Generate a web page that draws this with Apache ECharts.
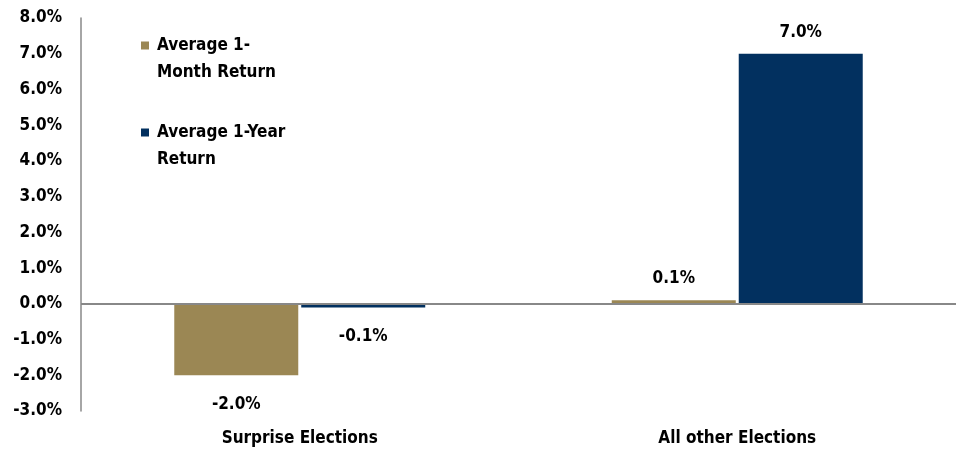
<!DOCTYPE html>
<html>
<head>
<meta charset="utf-8">
<script src="https://cdn.jsdelivr.net/npm/echarts@6/dist/echarts.min.js"></script>
<style>html,body{margin:0;padding:0;background:#fff}#c{width:956px;height:452px}</style>
</head>
<body>
<div id="c"></div>
<script>
const categories = ['Surprise Elections', 'All other Elections'];
const seriesNames = ['Average 1-Month Return', 'Average 1-Year Return'];
const monthReturn = [-2.0, 0.1];
const yearReturn = [-0.1, 7.0];
const legendLabels = ['Average 1-\nMonth Return', 'Average 1-Year\nReturn'];
const colors = ['#9B8754', '#02305F'];

const FONT = '"DejaVu Sans Condensed", "DejaVu Sans", sans-serif';
function items(vals) {
  return vals.map(v => ({
    value: v,
    label: { position: v < 0 ? 'bottom' : 'top', distance: v < 0 ? 21 : 13 }
  }));
}
const labelStyle = {
  show: true,
  formatter: p => p.value.toFixed(1) + '%',
  fontFamily: FONT, fontWeight: 'bold', fontSize: 17, color: '#000'
};

const chart = echarts.init(document.getElementById('c'));
chart.setOption({
  animation: false,
  backgroundColor: '#fff',
  grid: { left: 81, right: -4, top: 18, bottom: 41, containLabel: false },
  legend: {
    orient: 'vertical', left: 136, top: 0,
    itemWidth: 8, itemHeight: 8, itemGap: 6,
    icon: 'rect',
    data: seriesNames,
    formatter: n => '\n' + legendLabels[seriesNames.indexOf(n)],
    textStyle: { fontFamily: FONT, fontWeight: 'bold', fontSize: 17, color: '#000', lineHeight: 27, padding: [0, 0, 0, 3] }
  },
  xAxis: {
    type: 'category', data: categories,
    axisLine: { show: false, onZero: false },
    axisTick: { show: false },
    axisLabel: { margin: 19, fontFamily: FONT, fontWeight: 'bold', fontSize: 17, color: '#000' }
  },
  yAxis: {
    type: 'value', min: -3, max: 8, interval: 1,
    axisLine: { show: true, lineStyle: { color: '#888', width: 1.5 } },
    axisTick: { show: false },
    splitLine: { show: false },
    axisLabel: { margin: 19, formatter: v => v.toFixed(1) + '%', fontFamily: FONT, fontWeight: 'bold', fontSize: 17, color: '#000' }
  },
  series: [
    {
      name: seriesNames[0], type: 'bar', data: items(monthReturn),
      barWidth: 124, barGap: '2.4%', itemStyle: { color: colors[0] },
      label: labelStyle,
      markLine: {
        silent: true, symbol: 'none', label: { show: false },
        lineStyle: { color: '#888', width: 2, type: 'solid' },
        data: [{ yAxis: 0 }]
      }
    },
    {
      name: seriesNames[1], type: 'bar', data: items(yearReturn),
      barWidth: 124, barGap: '2.4%', itemStyle: { color: colors[1] },
      label: labelStyle
    }
  ]
});
</script>
</body>
</html>
